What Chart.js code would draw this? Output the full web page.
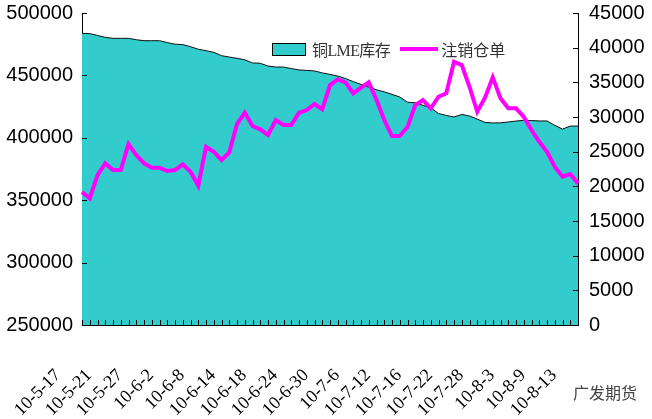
<!DOCTYPE html>
<html lang="zh">
  <head>
    <meta charset="UTF-8" />
    <title>铜LME库存与注销仓单</title>
    <script src="https://cdn.jsdelivr.net/npm/chart.js"></script>
    <style>
      body {
        margin: 0;
        background: #ffffff;
        overflow: hidden;
      }

      .wrap {
        position: relative;
        width: 652px;
        height: 419px;
      }

      .legend {
        position: absolute;
        left: 272px;
        top: 37px;
        font-family: "Liberation Serif", "Noto Sans CJK SC", serif;
        font-size: 16px;
        color: #333;
        display: flex;
        align-items: center;
        white-space: nowrap;
      }

      .legend .box {
        width: 32px;
        height: 11px;
        background: #33cccc;
        border: 1px solid #000;
        margin-right: 6px;
      }

      .legend .lme {
        letter-spacing: -0.6px;
      }

      .legend .dash {
        width: 38px;
        height: 4px;
        background: #ff00ff;
        margin: 0 3px 0 10px;
      }

      .source {
        position: absolute;
        left: 573px;
        top: 380px;
        font-family: "Noto Sans CJK SC", sans-serif;
        font-size: 16px;
        color: #444;
      }
    </style>
  </head>
  <body>
    <div class="wrap">
      <canvas id="stockChart" width="652" height="419"></canvas>

      <!-- legend sits inside the plot area -->
      <div class="legend">
        <span class="box"></span><span class="lme">铜LME库存</span>
        <span class="dash"></span><span>注销仓单</span>
      </div>
      <div class="source">广发期货</div>
    </div>

    <script>
      // trading days, 2010-05-17 .. 2010-08-13
      const dates = [
        "10-5-17", "10-5-18", "10-5-19", "10-5-20", "10-5-21",
        "10-5-24", "10-5-25", "10-5-26", "10-5-27", "10-5-28",
        "10-5-31", "10-6-1", "10-6-2", "10-6-3", "10-6-4",
        "10-6-7", "10-6-8", "10-6-9", "10-6-10", "10-6-11",
        "10-6-14", "10-6-15", "10-6-16", "10-6-17", "10-6-18",
        "10-6-21", "10-6-22", "10-6-23", "10-6-24", "10-6-25",
        "10-6-28", "10-6-29", "10-6-30", "10-7-1", "10-7-2",
        "10-7-5", "10-7-6", "10-7-7", "10-7-8", "10-7-9",
        "10-7-12", "10-7-13", "10-7-14", "10-7-15", "10-7-16",
        "10-7-19", "10-7-20", "10-7-21", "10-7-22", "10-7-23",
        "10-7-26", "10-7-27", "10-7-28", "10-7-29", "10-7-30",
        "10-8-2", "10-8-3", "10-8-4", "10-8-5", "10-8-6",
        "10-8-9", "10-8-10", "10-8-11", "10-8-12", "10-8-13",
      ];

      // only every 4th date gets a label
      const labelEvery = 4;

      // 铜LME库存 (left axis, tonnes)
      const lmeStock = [
        483700, 483500, 482000, 480500, 479700, 479700, 479700, 478600, 477800, 477800,
        477800, 476300, 475000, 474700, 473000, 471000, 469800, 468500, 465800, 464700,
        463700, 462500, 460000, 459700, 457500, 456700, 456700, 455500, 454400, 454000,
        453600, 452000, 450800, 449500, 447500, 445000, 442800, 440700, 438500, 436800,
        434800, 432700, 428500, 428100, 426000, 424000, 419500, 417900, 416700, 418700,
        417500, 415000, 412300, 411900, 412000, 412700, 413400, 414000, 413800, 413500,
        413500, 410000, 407000, 409400, 409400,
      ];

      // 注销仓单 (right axis)
      const cancelled = [
        19180, 18270, 21630, 23320, 22350, 22350, 26100, 24510, 23320, 22680,
        22680, 22210, 22350, 23170, 22110, 20090, 25710, 24990, 23790, 24900,
        28980, 30610, 28700, 28220, 27400, 29560, 28840, 28840, 30610, 31000,
        31870, 31100, 34610, 35430, 35000, 33410, 34220, 35000, 32450, 29560,
        27250, 27250, 28550, 31720, 32450, 31250, 32920, 33410, 37970, 37490,
        34360, 30760, 32780, 35720, 32690, 31250, 31250, 30040, 28120, 26430,
        24990, 22830, 21390, 21770, 20430,
      ];

      const leftTicks = [250000, 300000, 350000, 400000, 450000, 500000];
      const rightTicks = [0, 5000, 10000, 15000, 20000, 25000, 30000, 35000, 40000, 45000];

      // short tick marks pointing into the plot, like the Excel original
      const innerTicks = {
        id: "innerTicks",
        afterDraw(chart) {
          const { ctx, chartArea, scales } = chart;
          ctx.save();
          ctx.strokeStyle = "#000";
          ctx.lineWidth = 1;
          ctx.beginPath();
          dates.forEach((d, i) => {
            const x = Math.round(scales.x.getPixelForValue(i)) + 0.5;
            ctx.moveTo(x, chartArea.bottom);
            ctx.lineTo(x, chartArea.bottom - 5);
          });
          leftTicks.forEach((v) => {
            const y = Math.round(scales.y.getPixelForValue(v)) + 0.5;
            ctx.moveTo(chartArea.left, y);
            ctx.lineTo(chartArea.left + 5, y);
          });
          rightTicks.forEach((v) => {
            const y = Math.round(scales.y1.getPixelForValue(v)) + 0.5;
            ctx.moveTo(chartArea.right, y);
            ctx.lineTo(chartArea.right - 5, y);
          });
          ctx.stroke();
          ctx.restore();
        },
      };

      const numFont = { family: "'Liberation Sans', Arial, sans-serif", size: 20 };
      const plain = (v) => String(v); // no thousands separators

      // keep the plot box fixed: no extra room for overhanging labels
      const fixX = (s) => {
        s.height = 94;
        s.paddingLeft = 0;
        s.paddingRight = 0;
      };
      const fixY = (w) => (s) => {
        s.width = w;
        s.paddingTop = 0;
        s.paddingBottom = 0;
      };

      new Chart(document.getElementById("stockChart"), {
        data: {
          labels: dates,
          datasets: [
            {
              type: "line",
              label: "注销仓单",
              data: cancelled,
              yAxisID: "y1",
              borderColor: "#ff00ff",
              borderWidth: 4,
              pointRadius: 0,
              tension: 0,
              fill: false,
              order: 1,
            },
            {
              type: "line",
              label: "铜LME库存",
              data: lmeStock,
              yAxisID: "y",
              borderColor: "#111",
              borderWidth: 1,
              backgroundColor: "#33cccc",
              pointRadius: 0,
              tension: 0,
              fill: "start",
              order: 2,
            },
          ],
        },
        options: {
          responsive: false,
          animation: false,
          layout: { padding: { top: 13, left: 0, right: 0, bottom: 0 } },
          plugins: {
            legend: { display: false },
            tooltip: { enabled: false },
          },
          scales: {
            x: {
              type: "category",
              offset: false,
              grid: { display: false, drawTicks: false },
              border: { display: true, color: "#000", width: 1 },
              afterFit: fixX,
              ticks: {
                autoSkip: false,
                minRotation: 45,
                maxRotation: 45,
                padding: 40,
                labelOffset: -24,
                color: "#000",
                font: { family: "'Liberation Serif', 'Times New Roman', serif", size: 18 },
                callback: (v, i) => (i % labelEvery === 0 ? dates[i] : ""),
              },
            },
            y: {
              position: "left",
              min: 250000,
              max: 500000,
              grid: { display: false, drawTicks: false },
              border: { display: true, color: "#000", width: 1 },
              afterFit: fixY(82),
              ticks: {
                stepSize: 50000,
                padding: 9,
                color: "#000",
                font: numFont,
                callback: plain,
              },
            },
            y1: {
              position: "right",
              min: 0,
              max: 45000,
              grid: { display: false, drawTicks: false },
              border: { display: true, color: "#000", width: 1 },
              afterFit: fixY(74),
              ticks: {
                stepSize: 5000,
                padding: 11,
                color: "#000",
                font: numFont,
                callback: plain,
              },
            },
          },
        },
        plugins: [innerTicks],
      });
    </script>
  </body>
</html>
